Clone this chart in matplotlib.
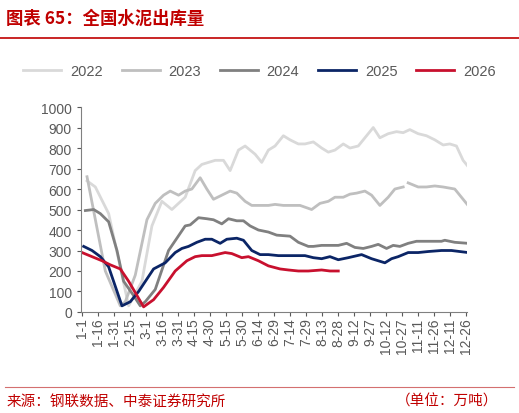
import matplotlib
matplotlib.use("Agg")
import matplotlib.pyplot as plt
import numpy as np
from matplotlib.lines import Line2D

plt.rcParams['font.family'] = ['Liberation Sans', 'Noto Sans CJK SC', 'DejaVu Sans']
CJK = ['Noto Sans CJK SC', 'DejaVu Sans']

zx = lambda xs: [(x - 120) * 0.312 for x in xs]

x22 = zx([135,160,200,260,300,330,360,390,430,460,480,520,545,565,590,610,640,660,680,700,725,745,770,790,815,840,860,880,905,925,950,975,995,1015,1040,1065,1085,1105,1130,1155,1180,1205,1225,1245,1265,1285])
v22 = [640,610,480,30,150,420,540,500,560,690,720,740,740,690,790,810,770,730,790,810,860,840,820,820,830,800,780,790,820,800,810,860,900,850,870,880,875,890,870,860,840,815,820,810,740,700]
x23 = zx([135,190,235,250,280,315,340,365,385,410,430,450,475,495,515,540,565,585,610,630,655,680,700,725,750,775,810,835,860,880,905,925,945,970,990,1015,1040,1060,1085,1092,1100,1130,1155,1180,1205,1240,1285])
v23 = [660,200,30,50,180,450,530,570,590,570,590,600,655,600,550,570,590,580,540,520,520,520,525,520,520,520,500,530,540,560,560,575,580,590,570,520,560,600,610,np.nan,630,610,610,615,610,600,510]
x24 = zx([130,155,175,200,225,245,275,295,310,340,380,405,430,445,470,495,515,540,560,585,605,625,650,680,705,745,770,800,815,840,865,890,915,940,965,990,1010,1035,1055,1075,1100,1125,1150,1175,1200,1210,1240,1280])
v24 = [495,500,480,440,300,150,80,30,50,110,300,360,420,425,460,455,450,430,455,445,445,420,400,390,375,370,340,320,320,325,325,325,335,315,310,320,330,310,325,320,335,345,345,345,345,350,340,335]
x25 = zx([125,150,175,200,240,265,290,335,370,400,420,440,465,490,510,535,555,585,605,630,655,680,710,740,770,790,815,840,865,890,920,960,990,1030,1050,1070,1100,1130,1160,1200,1230,1280])
v25 = [320,300,270,220,30,50,100,210,240,290,310,320,340,355,355,335,355,360,350,300,280,280,275,275,275,275,265,260,270,255,265,280,260,240,260,270,290,290,295,300,300,290]
x26 = zx([120,150,180,205,235,260,305,335,365,400,435,460,480,510,550,570,600,620,650,680,715,740,770,800,840,865,890])
v26 = [290,270,250,230,210,150,25,60,120,200,250,270,275,275,290,285,265,270,250,225,210,205,200,200,205,200,200]

series = [("2022", x22, v22, "#d9d9d9"), ("2023", x23, v23, "#bfbfbf"),
          ("2024", x24, v24, "#808080"), ("2025", x25, v25, "#0b2566"),
          ("2026", x26, v26, "#c8102e")]
tick_labels = ["1-1","1-16","1-31","2-15","3-1","3-16","3-31","4-15","4-30","5-15","5-30","6-14",
               "6-29","7-14","7-29","8-13","8-28","9-12","9-27","10-12","10-27","11-11","11-26","12-11","12-26"]

fig = plt.figure(figsize=(5.19, 4.14), dpi=100)
ax = fig.add_axes([0.156, 0.244, 0.744, 0.495])
for name, xs, vs, c in series:
    ax.plot(xs, vs, color=c, lw=2, label=name)
ax.set_ylim(0, 1000)
ax.set_xlim(-1, 361)
ax.set_yticks(range(0, 1001, 100))
ax.set_xticks(np.arange(len(tick_labels)) * 15)
ax.set_xticklabels(tick_labels, rotation=90)
for s in ["top", "right"]:
    ax.spines[s].set_visible(False)
for s in ["left", "bottom"]:
    ax.spines[s].set_color("#808080")
ax.tick_params(colors="#595959", labelsize=10, length=3)
ax.tick_params(axis='x', pad=1)

handles = [Line2D([], [], color=c, lw=2) for _, _, _, c in series]
fig.legend(handles, [s[0] for s in series], loc="center", bbox_to_anchor=(0.5, 0.827),
           ncol=5, frameon=False, fontsize=10.5, handlelength=2.6, columnspacing=1.3,
           handletextpad=0.6, labelcolor="#595959")

fig.text(0.012, 0.955, "图表 65：全国水泥出库量", color="#c00000", fontsize=12.5,
         fontweight="bold", style="italic", va="center", family=CJK)
fig.add_artist(Line2D([0.0, 1.0], [0.905, 0.905], color="#c00000", lw=1.2))
fig.add_artist(Line2D([0.01, 0.99], [0.062, 0.062], color="#d47070", lw=0.8))
fig.text(0.012, 0.03, "来源：钢联数据、中泰证券研究所", color="#c00000", fontsize=10.5, va="center", family=CJK)
fig.text(0.96, 0.03, "（单位：万吨）", color="#c00000", fontsize=10.5, va="center", ha="right", family=CJK)

fig.savefig("out.png", dpi=100)
